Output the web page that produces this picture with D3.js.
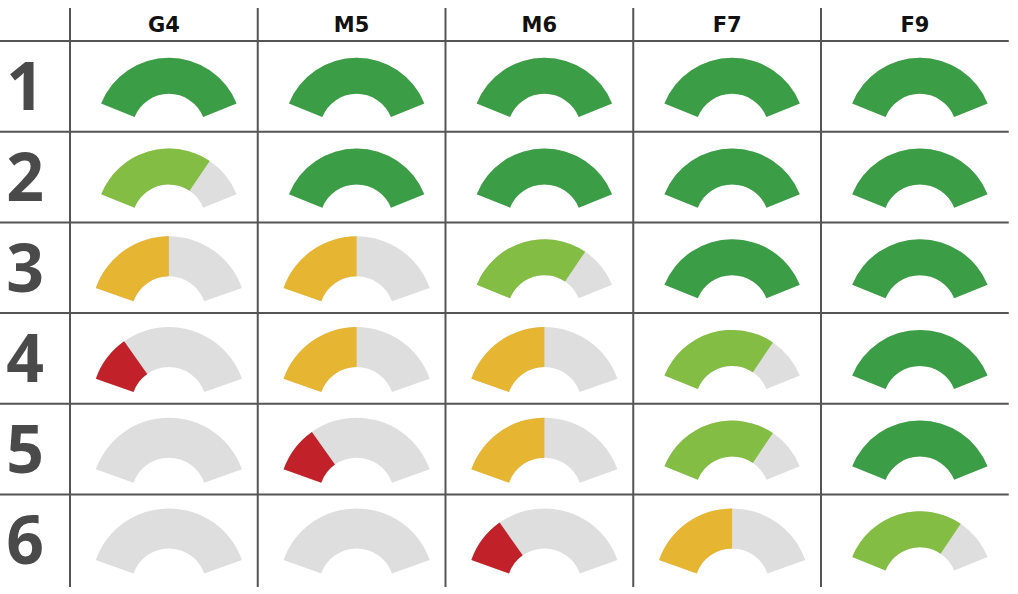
<!DOCTYPE html>
<html>
<head>
<meta charset="utf-8">
<script src="https://cdn.jsdelivr.net/npm/d3@7"></script>
<style>
  html, body { margin: 0; padding: 0; background: #ffffff; }
  svg { display: block; }
</style>
</head>
<body>
<svg id="chart" width="1018" height="594"></svg>
<script>
// ---- data ----
const columns = ["G4", "M5", "M6", "F7", "F9"];
const rows = ["1", "2", "3", "4", "5", "6"];
// percent of the gauge filled, one array per row (columns G4..F9)
const row1 = [100, 100, 100, 100, 100];
const row2 = [75, 100, 100, 100, 100];
const row3 = [50, 50, 75, 100, 100];
const row4 = [25, 50, 50, 75, 100];
const row5 = [0, 25, 50, 75, 100];
const row6 = [0, 0, 25, 50, 75];
const levels = [row1, row2, row3, row4, row5, row6];

// ---- styles ----
const colorFor = { 100: "#3c9d47", 75: "#83bd43", 50: "#e6b532", 25: "#c1222a" };
const grayColor = "#dedede";
const lineColor = "#555555";
// green gauges were drawn slightly smaller than the others in the reference
const geomFor = lvl => lvl >= 75
  ? { R: 73, r: 37, A: 68 * Math.PI / 180, cy: 89.8 }
  : { R: 77.5, r: 37.5, A: 70.5 * Math.PI / 180, cy: 91.4 };

const svg = d3.select("#chart");

const x = d3.scaleBand().domain(columns).range([70, 1008.75]);
const y = d3.scaleBand().domain(rows).range([41, 585.2]);

// grid lines
const hLines = [41].concat(rows.slice(0, -1).map(r => y(r) + y.bandwidth()));
svg.append("g").selectAll("line").data(hLines).join("line")
  .attr("x1", 0).attr("x2", 1008.75)
  .attr("y1", d => d).attr("y2", d => d)
  .attr("stroke", lineColor).attr("stroke-width", 2);

const vLines = columns.map(c => x(c));
svg.append("g").selectAll("line").data(vLines).join("line")
  .attr("x1", d => d).attr("x2", d => d)
  .attr("y1", 8).attr("y2", 587)
  .attr("stroke", lineColor).attr("stroke-width", 2);

// column headers
svg.append("g").selectAll("text").data(columns).join("text")
  .attr("x", d => x(d) + x.bandwidth() / 2)
  .attr("y", 32)
  .attr("text-anchor", "middle")
  .attr("font-family", "'DejaVu Sans', sans-serif")
  .attr("font-weight", 700)
  .attr("font-size", 21)
  .attr("fill", "#111111")
  .text(d => d);

// row labels
svg.append("g").selectAll("text").data(rows).join("text")
  .attr("x", 25)
  .attr("y", d => y(d) + y.bandwidth() / 2 + 24)
  .attr("text-anchor", "middle")
  .attr("font-family", "'Open Sans', 'Noto Sans', sans-serif")
  .attr("font-weight", 700)
  .attr("font-size", 66)
  .attr("fill", "#4a4a4a")
  .text(d => d);

// gauges
const cells = [];
rows.forEach((r, i) => columns.forEach((c, j) => cells.push({ row: r, col: c, value: levels[i][j] })));

const g = svg.append("g");
cells.forEach(d => {
  const geo = geomFor(d.value);
  const angle = d3.scaleLinear().domain([0, 100]).range([-geo.A, geo.A]);
  const arc = d3.arc().innerRadius(geo.r).outerRadius(geo.R);
  const cx = x(d.col) + x.bandwidth() / 2 + 5;
  const cy = y(d.row) + geo.cy;
  const gg = g.append("g").attr("transform", `translate(${cx},${cy})`);
  gg.append("path")
    .attr("d", arc({ startAngle: angle(0), endAngle: angle(100) }))
    .attr("fill", grayColor);
  if (d.value > 0) {
    gg.append("path")
      .attr("d", arc({ startAngle: angle(0), endAngle: angle(d.value) }))
      .attr("fill", colorFor[d.value]);
  }
});
</script>
</body>
</html>
